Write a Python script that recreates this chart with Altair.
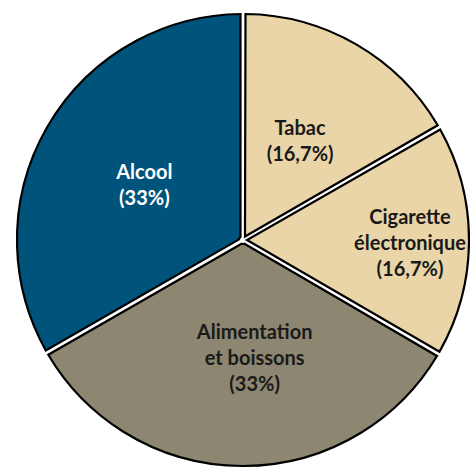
import altair as alt
import pandas as pd

categories = ["Tabac", "Cigarette électronique", "Alimentation et boissons", "Alcool"]
values = [16.7, 16.7, 33.3, 33.3]
labels = ["Tabac\n(16,7%)", "Cigarette\nélectronique\n(16,7%)", "Alimentation\net boissons\n(33%)", "Alcool\n(33%)"]
colors = ["#E9D5A7", "#E9D5A7", "#8D8670", "#00547C"]

df = pd.DataFrame({
    "cat": categories,
    "value": values,
    "label": labels,
    "idx": list(range(len(categories))),
})

CX, CY, R = 243, 240, 226
FONT = "Lato"
LH = 26

base = alt.Chart(df).transform_window(
    cum="sum(value)", sort=[alt.SortField("idx")], frame=[None, 0]
).transform_calculate(mid="datum.cum - datum.value / 2")

arcs = base.mark_arc(
    outerRadius=R, innerRadius=4, padAngle=5 / R, stroke="black", strokeWidth=2.2
).encode(
    theta=alt.Theta("value:Q", stack=True, scale=alt.Scale(domain=[0, 100])),
    order=alt.Order("idx:Q"),
    color=alt.Color("cat:N", scale=alt.Scale(domain=categories, range=colors), legend=None),
    x=alt.value(CX), y=alt.value(CY),
)

def label_layer(cat, radius, color, nlines, dx=0, extra_dy=2):
    return base.transform_filter(alt.datum.cat == cat).mark_text(
        font=FONT, fontSize=20, fontWeight="bold", lineBreak="\n", lineHeight=LH,
        align="center", baseline="middle", radius=radius, dx=dx,
        dy=-(nlines - 1) * LH / 2 + extra_dy, color=color,
    ).encode(
        theta=alt.Theta("mid:Q", stack=None, scale=alt.Scale(domain=[0, 100])),
        text="label:N",
        x=alt.value(CX), y=alt.value(CY),
    )

chart = alt.layer(
    arcs,
    label_layer("Tabac", 114, "#1A1A1A", 2, extra_dy=1),
    label_layer("Cigarette électronique", 167, "#1A1A1A", 3, extra_dy=3),
    label_layer("Alimentation et boissons", 117, "#1A1A1A", 3, dx=12, extra_dy=2),
    label_layer("Alcool", 114, "#FFFFFF", 2, extra_dy=3),
).properties(
    width=470, height=469, padding=0, autosize=alt.AutoSizeParams(type="none")
).configure_view(stroke=None)

chart.save("out.html", embed_options={"renderer": "svg", "actions": False})
